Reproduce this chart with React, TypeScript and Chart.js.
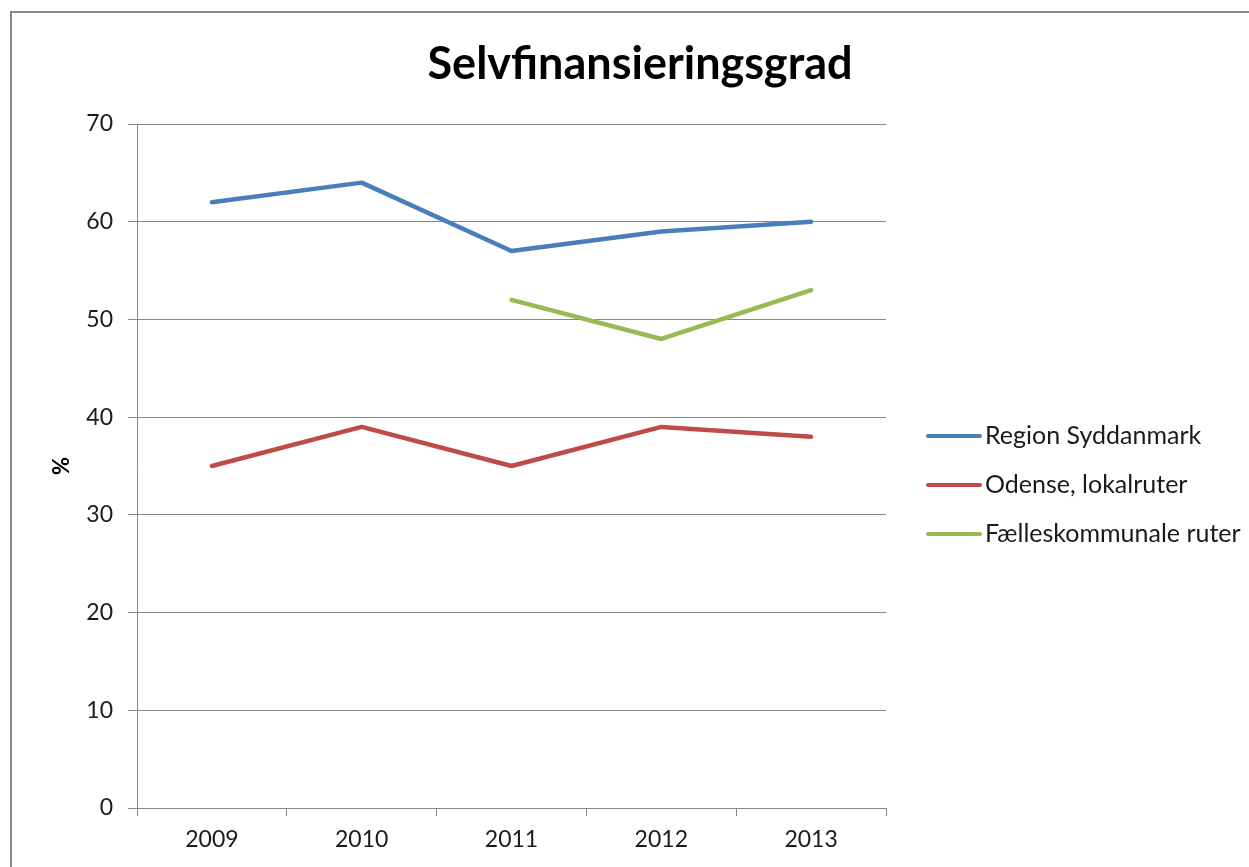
import React, { useEffect, useRef } from "react";
import { Chart, registerables } from "chart.js";

Chart.register(...registerables);

const chartTitle = "Selvfinansieringsgrad";
const yAxisTitle = "%";
const categories = ["2009", "2010", "2011", "2012", "2013"];
const seriesLabels = ["Region Syddanmark", "Odense, lokalruter", "Fælleskommunale ruter"];
const regionSyddanmark = [62, 64, 57, 59, 60];
const odenseLokalruter = [35, 39, 35, 39, 38];
const faelleskommunaleRuter: (number | null)[] = [null, null, 52, 48, 53];
const seriesColors = ["#4A7EBB", "#BE4B48", "#98B954"];
const yMin = 0;
const yMax = 70;
const yStep = 10;

const FONT = "Lato, 'Open Sans', sans-serif";
const GRID = "#868686";
const TEXT = "#1a1a1a";

const decorPlugin = {
  id: "decor",
  beforeDraw(chart: any) {
    const ctx = chart.ctx;
    ctx.save();
    ctx.fillStyle = "#ffffff";
    ctx.fillRect(0, 0, chart.width, chart.height);
    ctx.strokeStyle = "#888888";
    ctx.lineWidth = 2;
    ctx.strokeRect(11, 12, chart.width + 40, chart.height + 40);
    ctx.restore();
  },
  afterDraw(chart: any) {
    const ctx = chart.ctx;
    const area = chart.chartArea;
    ctx.save();
    // title
    ctx.fillStyle = "#000000";
    ctx.font = `bold 45px ${FONT}`;
    ctx.textAlign = "center";
    ctx.textBaseline = "middle";
    ctx.fillText(chartTitle, 640, 64);
    // legend
    const x0 = area.right + 42;
    const midY = (area.top + area.bottom) / 2 + 19;
    const n = chart.data.datasets.length;
    chart.data.datasets.forEach((ds: any, i: number) => {
      const y = midY + (i - (n - 1) / 2) * 49;
      ctx.strokeStyle = ds.borderColor;
      ctx.lineWidth = 4;
      ctx.lineCap = "round";
      ctx.beginPath();
      ctx.moveTo(x0, y);
      ctx.lineTo(x0 + 52, y);
      ctx.stroke();
      ctx.fillStyle = TEXT;
      ctx.font = `25px ${FONT}`;
      ctx.textAlign = "left";
      ctx.textBaseline = "middle";
      ctx.fillText(ds.label, x0 + 57, y);
    });
    ctx.restore();
  },
};

export default function App() {
  const ref = useRef<HTMLCanvasElement | null>(null);

  useEffect(() => {
    document.body.style.margin = "0";
    document.body.style.overflow = "hidden";
    const canvas = ref.current;
    if (!canvas) return;
    const seriesData = [regionSyddanmark, odenseLokalruter, faelleskommunaleRuter];
    const chart = new Chart(canvas, {
      type: "line",
      data: {
        labels: categories,
        datasets: seriesData.map((d, i) => ({
          label: seriesLabels[i],
          data: d,
          borderColor: seriesColors[i],
          backgroundColor: seriesColors[i],
          borderWidth: 4.5,
          borderJoinStyle: "round" as const,
          borderCapStyle: "round" as const,
          pointRadius: 0,
          pointHoverRadius: 0,
          tension: 0,
          spanGaps: false,
          fill: false,
        })),
      },
      options: {
        animation: false,
        responsive: false,
        events: [],
        layout: { padding: { left: 12, right: 363, top: 124, bottom: 0 } },
        plugins: {
          legend: { display: false },
          title: { display: false },
          tooltip: { enabled: false },
        },
        scales: {
          x: {
            type: "category",
            offset: true,
            grid: {
              offset: true,
              drawOnChartArea: false,
              drawTicks: true,
              tickLength: 8,
              color: GRID,
              lineWidth: 1,
            },
            border: { display: true, color: GRID, width: 1 },
            ticks: {
              color: TEXT,
              font: { family: FONT, size: 23 },
              padding: 10,
              maxRotation: 0,
            },
            afterFit: (scale: any) => {
              scale.height = 59;
            },
          },
          y: {
            min: yMin,
            max: yMax,
            ticks: {
              stepSize: yStep,
              color: TEXT,
              font: { family: FONT, size: 23 },
              padding: 15,
            },
            grid: {
              color: GRID,
              lineWidth: 1,
              drawTicks: true,
              tickLength: 9,
            },
            border: { display: true, color: GRID, width: 1 },
            title: {
              display: true,
              text: yAxisTitle,
              color: "#000000",
              font: { family: FONT, size: 22, weight: "bold" },
              padding: { top: 37, bottom: 0 },
            },
            afterFit: (scale: any) => {
              scale.width = 125;
            },
          },
        },
      },
      plugins: [decorPlugin],
    });
    return () => chart.destroy();
  }, []);

  return (
    <div style={{ width: 1249, height: 867, position: "relative" }}>
      <canvas ref={ref} width={1249} height={867} style={{ display: "block" }} />
    </div>
  );
}
